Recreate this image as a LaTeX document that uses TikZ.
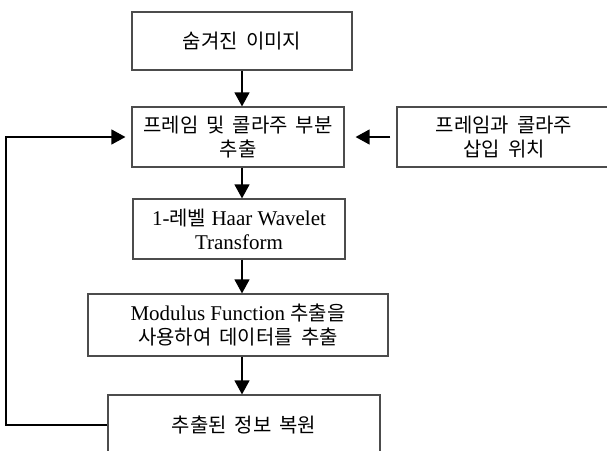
\documentclass[tikz,border=0pt]{standalone}
\usepackage{fontspec}
\setmainfont{Liberation Serif}
\newfontfamily\kr[Scale=0.95, WordSpace=1.8]{Noto Sans CJK KR}
\usetikzlibrary{arrows.meta}

\begin{document}
\begin{tikzpicture}[
  x=1pt, y=-1pt,
  every node/.style={font=\fontsize{21}{24}\selectfont},
  block/.style={rectangle, draw=black!70, line width=1.2pt, minimum width=212pt, minimum height=60pt, align=center, inner sep=2pt},
  arrow/.style={-{Triangle[length=14pt, width=15pt]}, line width=1.3pt},
]
\useasboundingbox (0,0) rectangle (607,450);

% Main column
\node[block, minimum width=220pt, minimum height=58pt] (hidden) at (242, 41) {{\kr 숨겨진 이미지}};
\node[block] (extract) at (238, 137) {{\kr 프레임 및 콜라주 부분}\\{\kr 추출}};
\node[block] (haar) at (239, 229) {1-{\kr 레벨} Haar Wavelet\\Transform};
\node[block, minimum width=300pt, minimum height=62pt] (modulus) at (238, 325) {Modulus Function {\kr 추출을}\\{\kr 사용하여 데이터를 추출}};
\node[block, minimum width=272pt] (restore) at (244, 425) {{\kr 추출된 정보 복원}};

% Side input
\node[block, minimum width=214pt] (insert) at (504, 137) {{\kr 프레임과 콜라주}\\{\kr 삽입 위치}};

% Arrows down the column
\draw[arrow] (hidden.south) -- (extract.north -| hidden);
\draw[arrow] (extract.south -| hidden) -- (haar.north -| hidden);
\draw[arrow] (haar.south -| hidden) -- (modulus.north -| hidden);
\draw[arrow] (modulus.south -| hidden) -- (restore.north -| hidden);

% Side arrow
\draw[arrow, shorten <=6pt, shorten >=11pt] (insert.west) -- (extract.east);

% Feedback loop
\coordinate (back) at (6, 425);
\draw[arrow, shorten >=6pt] (restore.west) -- (back) |- (extract.west);

\end{tikzpicture}
\end{document}
